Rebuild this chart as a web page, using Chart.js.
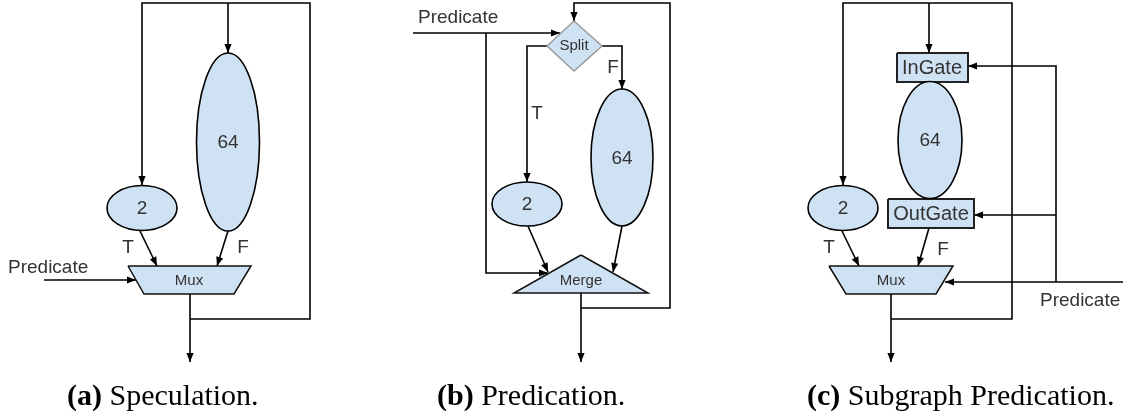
<!DOCTYPE html>
<html>
<head>
<meta charset="utf-8">
<script src="https://cdn.jsdelivr.net/npm/chart.js@4.4.1/dist/chart.umd.min.js"></script>
<style>
  html, body { margin: 0; padding: 0; background: #fff; }
  canvas { display: block; }
</style>
</head>
<body>
<canvas id="diagram" width="1140" height="420"></canvas>
<script>
// nodes drawn as ellipses: label, cx, cy, rx, ry
const ellipses = [
  ['64', 228, 142, 31.5, 89],
  ['2', 142, 208, 35, 22.5],
  ['2', 527, 204, 35, 22],
  ['64', 622, 157.5, 31, 68.5],
  ['64', 930, 140, 32, 58.5],
  ['2', 843, 208, 35, 22.5]
];

// nodes drawn as polygons
const muxA = [[128, 266], [251, 266], [234, 294], [144, 294]];
const splitB = [[574, 21], [602, 46], [574, 71], [547, 46]];
const mergeB = [[581, 255], [648, 293], [514, 293]];
const inGateC = [[897, 53], [968, 53], [968, 82], [897, 82]];
const outGateC = [[888, 199], [974, 199], [974, 228], [888, 228]];
const muxC = [[829, 266], [953, 266], [936, 294], [846, 294]];

// wires, every one ends in an arrow head
const wiresA = [
  [[190, 319], [310, 319], [310, 3], [142, 3], [142, 185]],
  [[228, 3], [228, 53]],
  [[140, 231], [157, 266]],
  [[228, 231], [217, 266]],
  [[44, 280], [136, 280]],
  [[190, 294], [190, 362]]
];
const wiresB = [
  [[581, 308], [670, 308], [670, 3], [574, 3], [574, 21]],
  [[413, 33], [560, 33]],
  [[486, 33], [486, 273], [548, 273]],
  [[547, 46], [527, 46], [527, 182]],
  [[602, 46], [622, 46], [622, 89]],
  [[528, 226], [548, 272]],
  [[622, 226], [613, 272]],
  [[581, 293], [581, 362]]
];
const wiresC = [
  [[891, 319], [1012, 319], [1012, 3], [843, 3], [843, 185]],
  [[929, 3], [929, 53]],
  [[842, 231], [859, 266]],
  [[929, 228], [918, 266]],
  [[1123, 282], [945, 282]],
  [[1056, 282], [1056, 66], [968, 66]],
  [[1056, 215], [974, 215]],
  [[891, 294], [891, 362]]
];

// labels: text, x, y, font size, align
const labels = [
  ['Predicate', 8, 268, 19, 'left'],
  ['Predicate', 418, 18, 19, 'left'],
  ['Predicate', 1040, 301, 19, 'left'],
  ['T', 128, 248, 19, 'center'],
  ['F', 243, 248, 19, 'center'],
  ['T', 537, 114, 19, 'center'],
  ['F', 613, 68, 19, 'center'],
  ['T', 829, 248, 19, 'center'],
  ['F', 943, 250, 19, 'center'],
  ['Mux', 189, 281, 15, 'center'],
  ['Split', 574, 46, 15, 'center'],
  ['Merge', 581, 281, 15, 'center'],
  ['InGate', 932, 68, 20, 'center'],
  ['OutGate', 931, 214, 20, 'center'],
  ['Mux', 891, 281, 15, 'center']
];

// captions: bold tag, text, x, baseline
const captions = [
  ['(a)', 'Speculation.', 67, 405],
  ['(b)', 'Predication.', 437, 405],
  ['(c)', 'Subgraph Predication.', 807, 405]
];

const FILL = '#cfe2f3';
const INK = '#000';
const TEXT = '#333';

function pts(list) {
  return list.map(([x, y]) => ({ x, y }));
}

function wireSet(list) {
  return {
    type: 'line',
    data: pts(list),
    showLine: true,
    borderColor: INK,
    borderWidth: 1.6,
    pointRadius: 0,
    fill: false,
    tension: 0,
    arrow: true
  };
}

function shapeSet(list, border, width) {
  return {
    type: 'line',
    data: pts(list.concat([list[0]])),
    showLine: true,
    borderColor: border,
    borderWidth: width,
    backgroundColor: FILL,
    pointRadius: 0,
    fill: 'shape',
    tension: 0
  };
}

const datasets = [
  shapeSet(muxA, '#111', 1.5),
  shapeSet(splitB, '#999', 1.5),
  shapeSet(mergeB, '#111', 1.5),
  shapeSet(inGateC, '#222', 2),
  shapeSet(outGateC, '#222', 2),
  shapeSet(muxC, '#111', 1.5)
].concat(wiresA.map(wireSet), wiresB.map(wireSet), wiresC.map(wireSet));

const diagramPlugin = {
  id: 'diagram',
  afterDatasetsDraw(chart) {
    const { ctx, scales: { x, y } } = chart;
    const px = v => x.getPixelForValue(v);
    const py = v => y.getPixelForValue(v);
    ctx.save();

    // ellipse nodes
    ellipses.forEach(([txt, cx, cy, rx, ry]) => {
      const X = px(cx), Y = py(cy);
      const RX = Math.abs(px(cx + rx) - X), RY = Math.abs(py(cy + ry) - Y);
      ctx.beginPath();
      ctx.ellipse(X, Y, RX, RY, 0, 0, Math.PI * 2);
      ctx.fillStyle = FILL;
      ctx.fill();
      ctx.lineWidth = 1.6;
      ctx.strokeStyle = INK;
      ctx.stroke();
      ctx.fillStyle = TEXT;
      ctx.font = '19px "Liberation Sans", Arial, sans-serif';
      ctx.textAlign = 'center';
      ctx.textBaseline = 'middle';
      ctx.fillText(txt, X, Y + 1);
    });

    // arrow heads at the end of each wire
    chart.data.datasets.forEach(ds => {
      if (!ds.arrow) return;
      const n = ds.data.length;
      const a = ds.data[n - 2], b = ds.data[n - 1];
      const x1 = px(a.x), y1 = py(a.y), x2 = px(b.x), y2 = py(b.y);
      const ang = Math.atan2(y2 - y1, x2 - x1);
      const len = 9, half = 3.6;
      ctx.beginPath();
      ctx.moveTo(x2, y2);
      ctx.lineTo(x2 - len * Math.cos(ang) + half * Math.sin(ang), y2 - len * Math.sin(ang) - half * Math.cos(ang));
      ctx.lineTo(x2 - len * Math.cos(ang) - half * Math.sin(ang), y2 - len * Math.sin(ang) + half * Math.cos(ang));
      ctx.closePath();
      ctx.fillStyle = INK;
      ctx.fill();
    });

    // text labels
    labels.forEach(([txt, lx, ly, size, align]) => {
      ctx.fillStyle = TEXT;
      ctx.font = size + 'px "Liberation Sans", Arial, sans-serif';
      ctx.textAlign = align;
      ctx.textBaseline = 'middle';
      ctx.fillText(txt, px(lx), py(ly));
    });

    // captions
    captions.forEach(([tag, txt, cx, cy]) => {
      ctx.fillStyle = '#000';
      ctx.textAlign = 'left';
      ctx.textBaseline = 'alphabetic';
      ctx.font = 'bold 30px "Liberation Serif", serif';
      ctx.fillText(tag, px(cx), py(cy));
      const w = ctx.measureText(tag + ' ').width;
      ctx.font = '30px "Liberation Serif", serif';
      ctx.fillText(txt, px(cx) + w, py(cy));
    });

    ctx.restore();
  }
};

new Chart(document.getElementById('diagram'), {
  type: 'scatter',
  data: { datasets },
  options: {
    responsive: false,
    animation: false,
    layout: { padding: 0 },
    plugins: { legend: { display: false }, tooltip: { enabled: false } },
    scales: {
      x: { type: 'linear', min: 0, max: 1140, display: false },
      y: { type: 'linear', min: 0, max: 420, reverse: true, display: false }
    }
  },
  plugins: [diagramPlugin]
});
</script>
</body>
</html>
